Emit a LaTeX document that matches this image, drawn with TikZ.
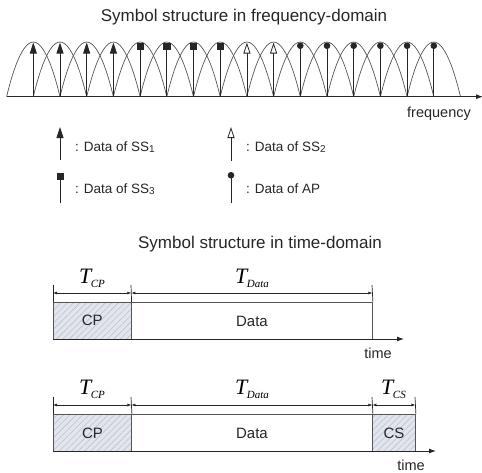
\documentclass[tikz,border=0pt]{standalone}
\usepackage{fontspec}
\setmainfont{Liberation Sans}
\newfontfamily\serifit{Liberation Serif}
\usetikzlibrary{arrows.meta,patterns.meta,calc}
\definecolor{hatchbg}{HTML}{E2E6EC}
\definecolor{hatchln}{HTML}{B9C3D0}
\definecolor{edge}{HTML}{555555}
\newcommand{\Tlab}[1]{{\serifit\itshape\fontsize{22}{22}\selectfont T\kern-0.5pt\raisebox{-4pt}{\fontsize{11}{11}\selectfont #1}}}
\newcommand{\subdig}[1]{\raisebox{-1pt}{\fontsize{10}{10}\selectfont #1}}
\tikzset{
  arcline/.style={edge, line width=0.7pt},
  stemline/.style={line width=0.8pt, black!85},
  tipa/.style={-{Triangle[length=11pt,width=7pt]}},
  tipb/.style={-{Triangle[open,length=11pt,width=7pt,fill=white]}},
  tipc/.style={-{Square[length=7pt,width=7pt]}},
  tipd/.style={-{Circle[length=6.5pt]}},
  axisline/.style={line width=0.9pt, black!85, -{Latex[length=7pt,width=5pt]}},
  title/.style={font=\fontsize{17}{17}\selectfont, anchor=base, inner sep=0, text=black!85},
  legtext/.style={font=\fontsize{13.5}{13.5}\selectfont, anchor=base west, inner sep=0, text=black!85},
  axlabel/.style={font=\fontsize{14.5}{14.5}\selectfont, anchor=base, inner sep=0, text=black!85},
  seg/.style={draw=edge, line width=0.9pt, minimum height=37pt, inner sep=0, anchor=north west, font=\fontsize{15}{15}\selectfont, text=black!85},
  hatched/.style={preaction={fill=hatchbg}, pattern={Lines[angle=45,distance=4.5pt,line width=0.6pt]}, pattern color=hatchln},
  tick/.style={line width=0.7pt, black!85},
  dim/.style={line width=0.7pt, black!85, {Latex[length=4pt,width=3pt]}-{Latex[length=4pt,width=3pt]}},
  tlabel/.style={anchor=base, inner sep=0}
}
\begin{document}
\begin{tikzpicture}[x=1pt,y=-1pt]
\useasboundingbox (0,0) rectangle (482,472);
% ---------- frequency domain ----------
\node[title] (ftitle) at (244,21.5) {Symbol structure in frequency-domain};
\foreach \i in {0,...,15}{
  \pgfmathsetmacro\xc{33.3+26.7*\i}
  \draw[arcline] (\xc-26.7,96.7) parabola bend (\xc,42) (\xc+26.7,96.7);
}
\foreach \k [count=\i from 0] in {a,a,a,a,c,c,c,c,b,b,d,d,d,d,d,d}{
  \pgfmathsetmacro\xc{33.3+26.7*\i}
  \draw[stemline,tip\k] (\xc,96.7) -- (\xc,42.5);
}
\coordinate (fstart) at (7,96.7);
\coordinate (fend) at (483,96.7);
\draw[axisline] (fstart) -- (fend);
\node[axlabel] (flabel) at (439,117) {frequency};
% ---------- legend ----------
\draw[stemline,tipa] (60,160) -- (60,127);
\node[legtext] (leg1) at (75,151) {: Data of SS\subdig{1}};
\draw[stemline,tipb] (231,161) -- (231,127);
\node[legtext] (leg2) at (246,151) {: Data of SS\subdig{2}};
\draw[stemline,tipc] (60,203) -- (60,173);
\node[legtext] (leg3) at (75,193) {: Data of SS\subdig{3}};
\draw[stemline,tipd] (231,203) -- (231,172);
\node[legtext] (leg4) at (246,193) {: Data of AP};
% ---------- time domain ----------
\node[title] (ttitle) at (260,248) {Symbol structure in time-domain};
% first symbol
\node[seg,hatched,minimum width=78pt] (cpA) at (53,302) {CP};
\node[seg,minimum width=241pt] (dataA) at (131,302) {Data};
\coordinate (taxA0) at (53,339);
\coordinate (taxA1) at (404,339);
\draw[axisline] (taxA0) -- (taxA1);
\node[axlabel] (timeA) at (378,358) {time};
\coordinate (tkA1) at (53,285);
\coordinate (tkA2) at (131,285);
\coordinate (tkA3) at (372,285);
\draw[tick] (cpA.north west) -- (tkA1);
\draw[tick] (cpA.north east) -- (tkA2);
\draw[tick] (dataA.north east) -- (tkA3);
\draw[dim] ($(tkA1)!0.47!(cpA.north west)$) -- ($(tkA2)!0.47!(cpA.north east)$);
\draw[dim] ($(tkA2)!0.47!(cpA.north east)$) -- ($(tkA3)!0.47!(dataA.north east)$);
\node[tlabel] (TcpA) at (92,283) {\Tlab{CP}};
\node[tlabel] (TdataA) at (252,283) {\Tlab{Data}};
% second symbol
\node[seg,hatched,minimum width=78pt] (cpB) at (53,414) {CP};
\node[seg,minimum width=241pt] (dataB) at (131,414) {Data};
\node[seg,hatched,minimum width=43pt] (csB) at (372,414) {CS};
\coordinate (taxB0) at (53,451);
\coordinate (taxB1) at (436,451);
\draw[axisline] (taxB0) -- (taxB1);
\node[axlabel] (timeB) at (411,470) {time};
\coordinate (tkB1) at (53,397);
\coordinate (tkB2) at (131,397);
\coordinate (tkB3) at (372,397);
\coordinate (tkB4) at (415,397);
\draw[tick] (cpB.north west) -- (tkB1);
\draw[tick] (cpB.north east) -- (tkB2);
\draw[tick] (dataB.north east) -- (tkB3);
\draw[tick] (csB.north east) -- (tkB4);
\draw[dim] ($(tkB1)!0.47!(cpB.north west)$) -- ($(tkB2)!0.47!(cpB.north east)$);
\draw[dim] ($(tkB2)!0.47!(cpB.north east)$) -- ($(tkB3)!0.47!(dataB.north east)$);
\draw[dim] ($(tkB3)!0.47!(dataB.north east)$) -- ($(tkB4)!0.47!(csB.north east)$);
\node[tlabel] (TcpB) at (92,394) {\Tlab{CP}};
\node[tlabel] (TdataB) at (252,394) {\Tlab{Data}};
\node[tlabel] (TcsB) at (393.5,394) {\Tlab{CS}};
\end{tikzpicture}
\end{document}
